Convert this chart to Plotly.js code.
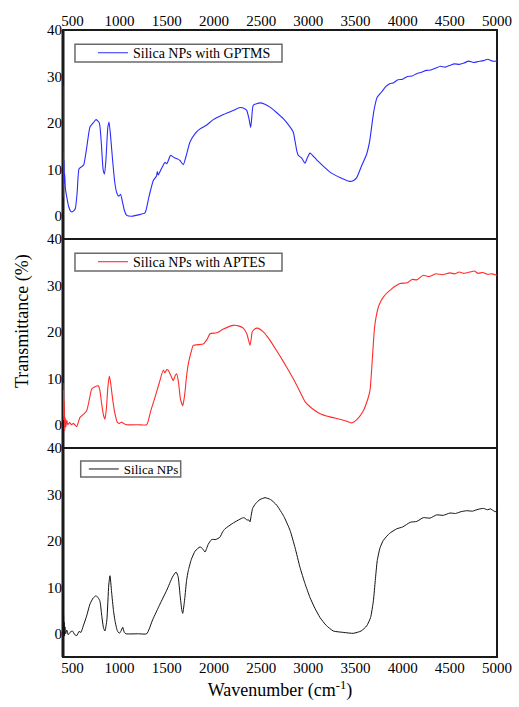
<!DOCTYPE html>
<html>
<head>
<meta charset="utf-8">
<script src="https://cdn.plot.ly/plotly-3.0.1.min.js"></script>
<style>html,body{margin:0;padding:0;background:#fff;}#chart{width:519px;height:707px;}</style>
</head>
<body>
<div id="chart"></div>
<script>
// ---- data ----
const tickValsX = [500,1000,1500,2000,2500,3000,3500,4000,4500,5000];
const tickValsY = [0,10,20,30,40];

const gptmsName = "Silica NPs with GPTMS";
const gptmsX = [400,402,404,407,410,414,418,425,440,460,480,495,510,530,550,570,600,620,650,686,720,750,785,805,825,840,855,875,888,905,926,950,969,990,1011,1030,1050,1075,1128,1200,1269,1310,1357,1390,1400,1410,1440,1481,1500,1541,1580,1620,1640,1675,1700,1746,1800,1852,1920,1993,2100,2205,2276,2330,2347,2370,2389,2400,2417,2488,2540,2594,2660,2735,2800,2841,2860,2880,2894,2930,2965,2990,3018,3100,3230,3340,3442,3480,3513,3560,3619,3650,3680,3696,3730,3778,3820,3866,3900,3950,4000,4050,4100,4149,4200,4250,4300,4350,4400,4450,4502,4550,4600,4650,4700,4750,4800,4855,4900,4950,5000];
const gptmsY = [28,4,14,6,12,7,9,6,4,2,1.0,0.8,1.0,1.5,5,10.1,10.6,11,14.5,19.1,20,20.7,20,16,10,9.0,12,19,20.2,17,11.9,7,5.0,4.2,4.6,3,1.2,0.1,-0.1,0.2,0.6,4,7.6,8.5,9.5,8.8,10,11.5,11.2,13,12.5,12.2,11.9,11,12.5,15.9,17.7,18.7,19.5,20.7,21.8,22.7,23.3,23,22.7,21,19,21,23.8,24.3,24.0,23.4,22.3,20.9,19.3,18.0,16,13.8,13,12.4,11.3,12.5,13.5,11.8,9.4,8.2,7.4,7.6,8.2,10.5,13.3,16,20.5,22.7,25.5,26.7,27.8,28.5,28.6,29.3,29.4,30,30.1,30.6,30.9,31.3,31.4,31.8,32.2,32.0,32.4,32.7,32.6,32.9,33.3,33.0,33.2,33.4,33.7,33.3,33.3];

const aptesName = "Silica NPs with APTES";
const aptesX = [400,403,406,410,414,418,423,430,440,450,470,490,510,545,580,620,651,680,704,740,774,790,810,830,845,860,875,891,905,920,933,955,976,1000,1022,1040,1075,1200,1287,1330,1375,1420,1463,1480,1500,1516,1545,1569,1590,1605,1625,1645,1669,1690,1710,1728,1760,1781,1887,1930,1958,2029,2100,2205,2260,2311,2350,2382,2395,2405,2424,2460,2523,2580,2629,2700,2771,2841,2900,2965,3040,3124,3230,3336,3400,3460,3520,3583,3630,3654,3675,3700,3718,3750,3795,3880,3972,4050,4100,4150,4219,4280,4350,4420,4502,4550,4600,4650,4714,4760,4800,4850,4900,4950,5000];
const aptesY = [9,1,7.5,2,5,-1.3,1.5,-0.5,1,0,0.5,0,0.3,-0.4,1.6,2.3,3,5.5,7.7,8.2,8.4,7.5,4.5,2,1.2,3.5,8,10.5,9,6.5,4.5,2,0.5,0.3,0.6,0.3,0,0,0,3,5.9,9,11.8,11.2,11.9,11.7,10.5,9.5,10.6,11,9,5.5,4.1,6.5,10.5,13.1,15.8,17.1,17.4,18.5,19.6,19.8,20.6,21.4,21.3,20.8,19.5,17.1,18.5,20,20.5,20.8,20,18.6,17.1,14.8,12.4,9.9,7.6,5.0,3.5,2.4,1.7,1.2,0.8,0.4,1.2,3,5.5,7.4,13,20.5,23.2,25.8,27.5,29.2,30.4,30.6,31.3,31.2,32.2,31.9,32.5,32.3,32.7,32.5,32.9,32.6,32.9,33.1,32.6,32.8,32.4,32.5,32.2];

const silicaName = "Silica NPs";
const silicaX = [400,403,406,409,412,416,420,428,440,455,474,500,525,545,570,590,615,650,686,720,750,775,792,810,830,845,865,885,898,915,935,951,975,997,1015,1033,1050,1068,1200,1287,1350,1428,1500,1560,1598,1620,1640,1660,1669,1690,1710,1728,1760,1800,1852,1880,1905,1940,1976,2020,2064,2090,2117,2200,2311,2335,2347,2370,2382,2395,2410,2440,2488,2541,2600,2665,2740,2806,2860,2912,2965,3018,3070,3124,3190,3265,3370,3477,3560,3619,3660,3690,3710,3731,3760,3795,3860,3937,4000,4080,4150,4219,4290,4360,4430,4502,4560,4620,4680,4740,4800,4855,4900,4930,4970,5000];
const silicaY = [8.6,0,4,1,2.5,-0.5,1.5,0,0.8,-0.2,0.3,0.6,-0.2,-0.4,0.5,0.3,1.7,3.8,6.4,7.7,8.2,7.7,7,4,1.2,0.6,3,10.5,12.5,9,5,2.8,0.7,0.1,0.6,1.4,0.3,0,0,0,3,6.4,9.4,12.2,13.3,12.3,8.5,5,4.4,7.5,11.5,13.6,16,17.8,18.7,18.3,17.6,19.3,20.3,20.3,20.8,21.9,22.6,23.8,25,24.8,24.5,24.5,24.1,25.5,27,28,28.9,29.3,28.9,27.7,25.3,22.3,18.5,14.3,10.8,7.8,5.5,3.5,1.8,0.6,0.3,0.1,0.6,1.7,3.5,7.1,11.5,15.8,18.5,20.1,21.6,22.6,23.0,24,24.2,25,24.9,25.6,25.5,26,25.9,26.3,26.5,26.4,26.8,27,26.7,26.9,26.4,26.2];

// ---- layout ----
const FONT = "Liberation Serif, Times New Roman, serif";
const panels = [[2/3,1],[1/3,2/3],[0,1/3]];
const legendBoxes = [[0.0276,0.5046,0.949,0.9772],[0.0276,0.5046,0.6156,0.6439],[0.0408,0.2712,0.2871,0.3126]];

function yaxisDef(dom){
  return {domain:dom, range:[-5,40], tickvals:tickValsY, ticks:'', showgrid:false, zeroline:false,
          showline:false, anchor:'x', tickfont:{family:FONT,size:15,color:'#000'}, fixedrange:true};
}

const traces = [
  {x:gptmsX, y:gptmsY, xaxis:'x2', yaxis:'y', type:'scatter', mode:'lines', name:gptmsName,
   line:{color:'#2b2bff', width:1.1, shape:'spline', smoothing:0.5}, legend:'legend'},
  {x:aptesX, y:aptesY, xaxis:'x', yaxis:'y2', type:'scatter', mode:'lines', name:aptesName,
   line:{color:'#ff2b2b', width:1.1, shape:'spline', smoothing:0.5}, legend:'legend2'},
  {x:silicaX, y:silicaY, xaxis:'x', yaxis:'y3', type:'scatter', mode:'lines', name:silicaName,
   line:{color:'#111', width:1.0, shape:'spline', smoothing:0.5}, legend:'legend3'}
];

const legendBase = {xref:'paper', yref:'paper', xanchor:'left', yanchor:'middle', bgcolor:'rgba(0,0,0,0)',
  borderwidth:0, font:{family:FONT, size:14, color:'#000'}};

const shapes = [];
legendBoxes.forEach(b => shapes.push({type:'rect', xref:'paper', yref:'paper', x0:b[0], x1:b[1], y0:b[2], y1:b[3],
  line:{color:'#6a6a6a', width:1.5}, fillcolor:'#fff', layer:'below'}));
panels.forEach(d => shapes.push({type:'rect', xref:'paper', yref:'paper', x0:0, x1:1, y0:d[0], y1:d[1],
  line:{color:'#1a1a1a', width:2}, fillcolor:'rgba(0,0,0,0)', layer:'below'}));
shapes.push({type:'line', xref:'paper', yref:'paper', x0:0, x1:0, y0:0, y1:1, line:{color:'#1a1a1a', width:3}, layer:'below'});

const layout = {
  width:519, height:707,
  margin:{l:63, r:22, t:30, b:50, pad:0},
  paper_bgcolor:'#fff', plot_bgcolor:'#fff',
  font:{family:FONT, color:'#000'},
  showlegend:true,
  xaxis:{domain:[0,1], range:[400,5000], anchor:'y3', tickvals:tickValsX, ticks:'', showgrid:false,
         zeroline:false, showline:false, tickfont:{family:FONT,size:15,color:'#000'},
         title:{text:'Wavenumber (cm<sup>-1</sup>)', font:{family:FONT,size:18,color:'#000'}, standoff:8}},
  xaxis2:{domain:[0,1], range:[400,5000], anchor:'y', side:'top', tickvals:tickValsX, ticks:'',
          showgrid:false, zeroline:false, showline:false, tickfont:{family:FONT,size:15,color:'#000'}},
  yaxis:yaxisDef(panels[0]),
  yaxis2:yaxisDef(panels[1]),
  yaxis3:yaxisDef(panels[2]),
  legend:Object.assign({}, legendBase, {x:0.0691, y:0.963}),
  legend2:Object.assign({}, legendBase, {x:0.0691, y:0.6298}),
  legend3:Object.assign({}, legendBase, {x:0.048, y:0.2998, font:{family:FONT,size:13,color:'#000'}}),
  annotations:[{text:'Transmittance (%)', xref:'paper', yref:'paper', x:-0.092, y:0.536, xanchor:'center', yanchor:'middle',
                textangle:-90, showarrow:false, font:{family:FONT,size:18,color:'#000'}}],
  shapes: shapes
};

Plotly.newPlot('chart', traces, layout, {staticPlot:true, displayModeBar:false});
</script>
</body>
</html>
